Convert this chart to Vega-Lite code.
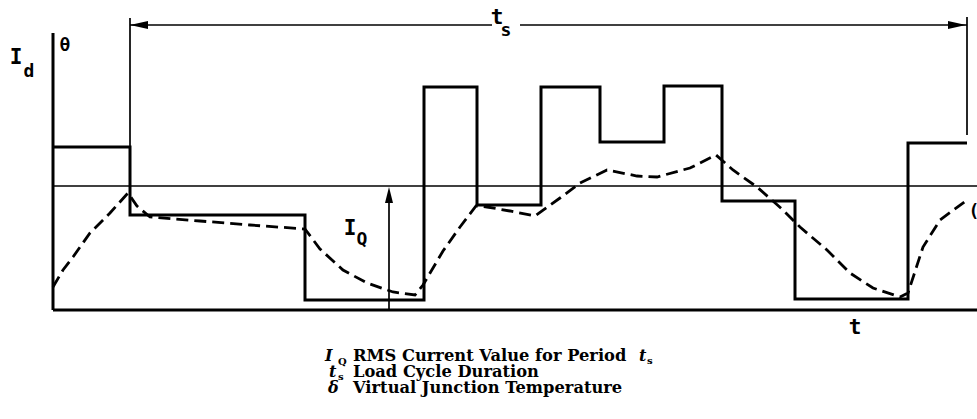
{
  "$schema": "https://vega.github.io/schema/vega-lite/v6.json",
  "width": 977,
  "height": 419,
  "padding": 0,
  "autosize": {"type": "none"},
  "background": "white",
  "config": {"view": {"stroke": null}},
  "datasets": {
    "current": [
      {"t": 0, "I": 163}, {"t": 77, "I": 95}, {"t": 252, "I": 10}, {"t": 371, "I": 223},
      {"t": 424, "I": 105}, {"t": 488, "I": 223}, {"t": 547, "I": 168}, {"t": 611, "I": 224},
      {"t": 669, "I": 109}, {"t": 742, "I": 11}, {"t": 855, "I": 167}, {"t": 914, "I": 167}
    ],
    "theta": [
      {"t": 0, "v": 23}, {"t": 10, "v": 40}, {"t": 20, "v": 53}, {"t": 37, "v": 77}, {"t": 57, "v": 97},
      {"t": 75, "v": 117}, {"t": 84, "v": 104}, {"t": 97, "v": 93}, {"t": 147, "v": 89}, {"t": 197, "v": 85},
      {"t": 252, "v": 81}, {"t": 267, "v": 61}, {"t": 290, "v": 40}, {"t": 314, "v": 27}, {"t": 340, "v": 18},
      {"t": 362, "v": 15}, {"t": 370, "v": 25}, {"t": 390, "v": 59}, {"t": 407, "v": 83}, {"t": 423, "v": 104},
      {"t": 434, "v": 103}, {"t": 457, "v": 99}, {"t": 482, "v": 94}, {"t": 507, "v": 112}, {"t": 527, "v": 127},
      {"t": 554, "v": 140}, {"t": 584, "v": 134}, {"t": 604, "v": 133}, {"t": 637, "v": 142}, {"t": 663, "v": 155},
      {"t": 680, "v": 140}, {"t": 704, "v": 123}, {"t": 730, "v": 100}, {"t": 747, "v": 83}, {"t": 774, "v": 60},
      {"t": 797, "v": 37}, {"t": 820, "v": 22}, {"t": 847, "v": 13}, {"t": 855, "v": 17}, {"t": 870, "v": 63},
      {"t": 887, "v": 90}, {"t": 914, "v": 110}
    ]
  },
  "encoding": {},
  "layer": [
    {
      "data": {"values": [
        {"x": 0, "y": 0, "x2": 0, "y2": 277},
        {"x": 0, "y": 0, "x2": 924, "y2": 0}
      ]},
      "mark": {"type": "rule", "color": "black", "strokeWidth": 3},
      "encoding": {
        "x": {"field": "x", "type": "quantitative", "scale": {"domain": [-53, 924], "nice": false, "zero": false}, "axis": null},
        "y": {"field": "y", "type": "quantitative", "scale": {"domain": [-109, 310], "nice": false, "zero": false}, "axis": null},
        "x2": {"field": "x2"},
        "y2": {"field": "y2"}
      }
    },
    {
      "data": {"values": [
        {"x": 0, "y": 124, "x2": 924, "y2": 124},
        {"x": 77, "y": 163, "x2": 77, "y2": 292},
        {"x": 914, "y": 175, "x2": 914, "y2": 293},
        {"x": 77, "y": 285, "x2": 439, "y2": 285},
        {"x": 467, "y": 285, "x2": 914, "y2": 285},
        {"x": 336, "y": 0, "x2": 336, "y2": 118}
      ]},
      "mark": {"type": "rule", "color": "black", "strokeWidth": 1.7},
      "encoding": {
        "x": {"field": "x", "type": "quantitative", "axis": null},
        "y": {"field": "y", "type": "quantitative", "axis": null},
        "x2": {"field": "x2"},
        "y2": {"field": "y2"}
      }
    },
    {
      "data": {"name": "current"},
      "mark": {"type": "line", "interpolate": "step-after", "color": "black", "strokeWidth": 3, "strokeJoin": "miter"},
      "encoding": {
        "x": {"field": "t", "type": "quantitative", "axis": null},
        "y": {"field": "I", "type": "quantitative", "axis": null}
      }
    },
    {
      "data": {"name": "theta"},
      "mark": {"type": "line", "interpolate": "linear", "color": "black", "strokeWidth": 2.8, "strokeDash": [12, 6]},
      "encoding": {
        "x": {"field": "t", "type": "quantitative", "axis": null},
        "y": {"field": "v", "type": "quantitative", "axis": null}
      }
    },
    {
      "data": {"values": [{"x": 86, "y": 285}]},
      "mark": {"type": "point", "filled": true, "opacity": 1, "color": "black", "shape": "M-1,0L1,-0.45L1,0.45Z", "size": 324},
      "encoding": {
        "x": {"field": "x", "type": "quantitative", "axis": null},
        "y": {"field": "y", "type": "quantitative", "axis": null}
      }
    },
    {
      "data": {"values": [{"x": 904, "y": 285}]},
      "mark": {"type": "point", "filled": true, "opacity": 1, "color": "black", "shape": "M1,0L-1,-0.45L-1,0.45Z", "size": 324},
      "encoding": {
        "x": {"field": "x", "type": "quantitative", "axis": null},
        "y": {"field": "y", "type": "quantitative", "axis": null}
      }
    },
    {
      "data": {"values": [{"x": 336, "y": 115}]},
      "mark": {"type": "point", "filled": true, "opacity": 1, "color": "black", "shape": "M0,-1L0.5,1L-0.5,1Z", "size": 256},
      "encoding": {
        "x": {"field": "x", "type": "quantitative", "axis": null},
        "y": {"field": "y", "type": "quantitative", "axis": null}
      }
    },
    {
      "data": {"values": [
        {"x": -37, "y": 252, "label": "I"},
        {"x": 444, "y": 292, "label": "t"},
        {"x": 297, "y": 81, "label": "I"},
        {"x": 802, "y": -18, "label": "t"}
      ]},
      "mark": {"type": "text", "font": "DejaVu Sans Mono", "fontSize": 21, "fontWeight": "bold", "align": "center", "baseline": "middle", "color": "black"},
      "encoding": {
        "x": {"field": "x", "type": "quantitative", "axis": null},
        "y": {"field": "y", "type": "quantitative", "axis": null},
        "text": {"field": "label"}
      }
    },
    {
      "data": {"values": [
        {"x": -24, "y": 238, "label": "d"},
        {"x": 453, "y": 279, "label": "s"},
        {"x": 309, "y": 70, "label": "Q"},
        {"x": 12, "y": 264, "label": "θ"},
        {"x": 921, "y": 98, "label": "("}
      ]},
      "mark": {"type": "text", "font": "DejaVu Sans Mono", "fontSize": 18, "fontWeight": "bold", "align": "center", "baseline": "middle", "color": "black"},
      "encoding": {
        "x": {"field": "x", "type": "quantitative", "axis": null},
        "y": {"field": "y", "type": "quantitative", "axis": null},
        "text": {"field": "label"}
      }
    },
    {
      "data": {"values": [
        {"x": 300, "y": -51, "label": "RMS Current Value for Period"},
        {"x": 300, "y": -67, "label": "Load Cycle Duration"},
        {"x": 300, "y": -83, "label": "Virtual Junction Temperature"}
      ]},
      "mark": {"type": "text", "font": "DejaVu Serif", "fontSize": 16.3, "fontWeight": "bold", "align": "left", "baseline": "alphabetic", "color": "black"},
      "encoding": {
        "x": {"field": "x", "type": "quantitative", "axis": null},
        "y": {"field": "y", "type": "quantitative", "axis": null},
        "text": {"field": "label"}
      }
    },
    {
      "data": {"values": [
        {"x": 272, "y": -51, "label": "I"},
        {"x": 276, "y": -67, "label": "t"},
        {"x": 275, "y": -83, "label": "δ"},
        {"x": 586, "y": -51, "label": "t"}
      ]},
      "mark": {"type": "text", "font": "DejaVu Serif", "fontSize": 16, "fontStyle": "italic", "fontWeight": "bold", "align": "left", "baseline": "alphabetic", "color": "black"},
      "encoding": {
        "x": {"field": "x", "type": "quantitative", "axis": null},
        "y": {"field": "y", "type": "quantitative", "axis": null},
        "text": {"field": "label"}
      }
    },
    {
      "data": {"values": [
        {"x": 285, "y": -55, "label": "Q"},
        {"x": 285, "y": -70, "label": "s"},
        {"x": 594, "y": -54, "label": "s"}
      ]},
      "mark": {"type": "text", "font": "DejaVu Serif", "fontSize": 10, "fontWeight": "bold", "align": "left", "baseline": "alphabetic", "color": "black"},
      "encoding": {
        "x": {"field": "x", "type": "quantitative", "axis": null},
        "y": {"field": "y", "type": "quantitative", "axis": null},
        "text": {"field": "label"}
      }
    }
  ]
}
